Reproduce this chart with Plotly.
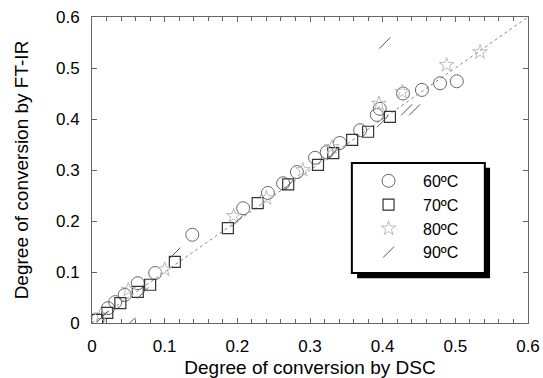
import plotly.graph_objects as go

# ---- data ----
t60_x = [0.007, 0.022, 0.032, 0.045, 0.063, 0.087, 0.138, 0.208, 0.242, 0.263, 0.282,
         0.307, 0.323, 0.341, 0.369, 0.392, 0.396, 0.428, 0.454, 0.479, 0.502]
t60_y = [0.006, 0.029, 0.041, 0.055, 0.078, 0.098, 0.173, 0.225, 0.255, 0.274, 0.296,
         0.324, 0.335, 0.353, 0.378, 0.408, 0.420, 0.450, 0.457, 0.470, 0.474]

t70_x = [0.007, 0.021, 0.039, 0.063, 0.080, 0.114, 0.187, 0.228, 0.270, 0.311, 0.332,
         0.358, 0.380, 0.410]
t70_y = [0.006, 0.020, 0.039, 0.061, 0.075, 0.120, 0.186, 0.235, 0.272, 0.310, 0.333,
         0.359, 0.375, 0.404]

t80_x = [0.012, 0.050, 0.100, 0.195, 0.240, 0.290, 0.330, 0.395, 0.427, 0.488, 0.534]
t80_y = [0.015, 0.065, 0.105, 0.210, 0.245, 0.300, 0.345, 0.430, 0.453, 0.506, 0.531]

t90_x = [0.014, 0.052, 0.070, 0.114, 0.200, 0.270, 0.330, 0.400, 0.403, 0.433, 0.444]
t90_y = [0.012, 0.000, 0.059, 0.137, 0.200, 0.270, 0.330, 0.395, 0.549, 0.418, 0.418]

diag = [0, 0.6]

labels = ["60ºC", "70ºC", "80ºC", "90ºC"]

FONT = "Liberation Sans, Arial, sans-serif"

# ---- figure ----
fig = go.Figure()

fig.add_trace(go.Scatter(x=diag, y=diag, mode="lines", showlegend=False,
                         line=dict(color="#888888", width=1, dash="dot"), hoverinfo="skip"))

fig.add_trace(go.Scatter(x=t60_x, y=t60_y, mode="markers", name=labels[0],
                         marker=dict(symbol="circle-open", size=13, color="#666666",
                                     line=dict(width=1))))
fig.add_trace(go.Scatter(x=t70_x, y=t70_y, mode="markers", name=labels[1],
                         marker=dict(symbol="square-open", size=11, color="#333333",
                                     line=dict(width=1.2))))
fig.add_trace(go.Scatter(x=t80_x, y=t80_y, mode="markers", name=labels[2],
                         marker=dict(symbol="star-open", size=11, color="#bbbbbb",
                                     line=dict(width=1))))
fig.add_trace(go.Scatter(x=t90_x, y=t90_y, mode="markers", name=labels[3],
                         marker=dict(symbol="line-ne-open", size=11, color="#555555",
                                     line=dict(width=1))))

axis_common = dict(
    range=[0, 0.6], showgrid=False, zeroline=False, automargin=False,
    showline=True, linecolor="#666666", linewidth=1, mirror="allticks",
    ticks="inside", ticklen=5, tickcolor="#666666", tickwidth=1,
    dtick=0.1, ticklabelstandoff=8,
    tickfont=dict(family=FONT, size=17, color="#000000"),
    title_font=dict(family=FONT, size=19, color="#000000"),
)

fig.update_xaxes(**axis_common, title_text="Degree of conversion by DSC", title_standoff=6,
                 minor=dict(dtick=0.02, ticks="inside", ticklen=4, tickcolor="#666666"))
fig.update_yaxes(**axis_common, title_text="Degree of conversion by FT-IR", title_standoff=22)

# legend box with drop shadow (paper coords of plot area 436 x 306 px)
fig.add_shape(type="rect", xref="paper", yref="paper",
              x0=0.608, x1=0.913, y0=0.146, y1=0.507,
              fillcolor="#000000", line=dict(width=0), layer="above")
fig.add_shape(type="rect", xref="paper", yref="paper",
              x0=0.596, x1=0.901, y0=0.163, y1=0.523,
              fillcolor="white", line=dict(color="#000000", width=2), layer="above")

fig.update_layout(
    width=543, height=378,
    margin=dict(l=92, r=15, t=17, b=55),
    paper_bgcolor="white", plot_bgcolor="white",
    font=dict(family=FONT, color="#000000"),
    showlegend=True,
    legend=dict(x=0.601, y=0.520, xanchor="left", yanchor="top",
                bgcolor="rgba(0,0,0,0)", borderwidth=0,
                font=dict(family=FONT, size=16, color="#000000"),
                itemwidth=59, tracegroupgap=0),
)

fig.write_html("out.html", config={"displayModeBar": False},
               post_script="document.body.style.margin='0';document.body.style.padding='0';")
